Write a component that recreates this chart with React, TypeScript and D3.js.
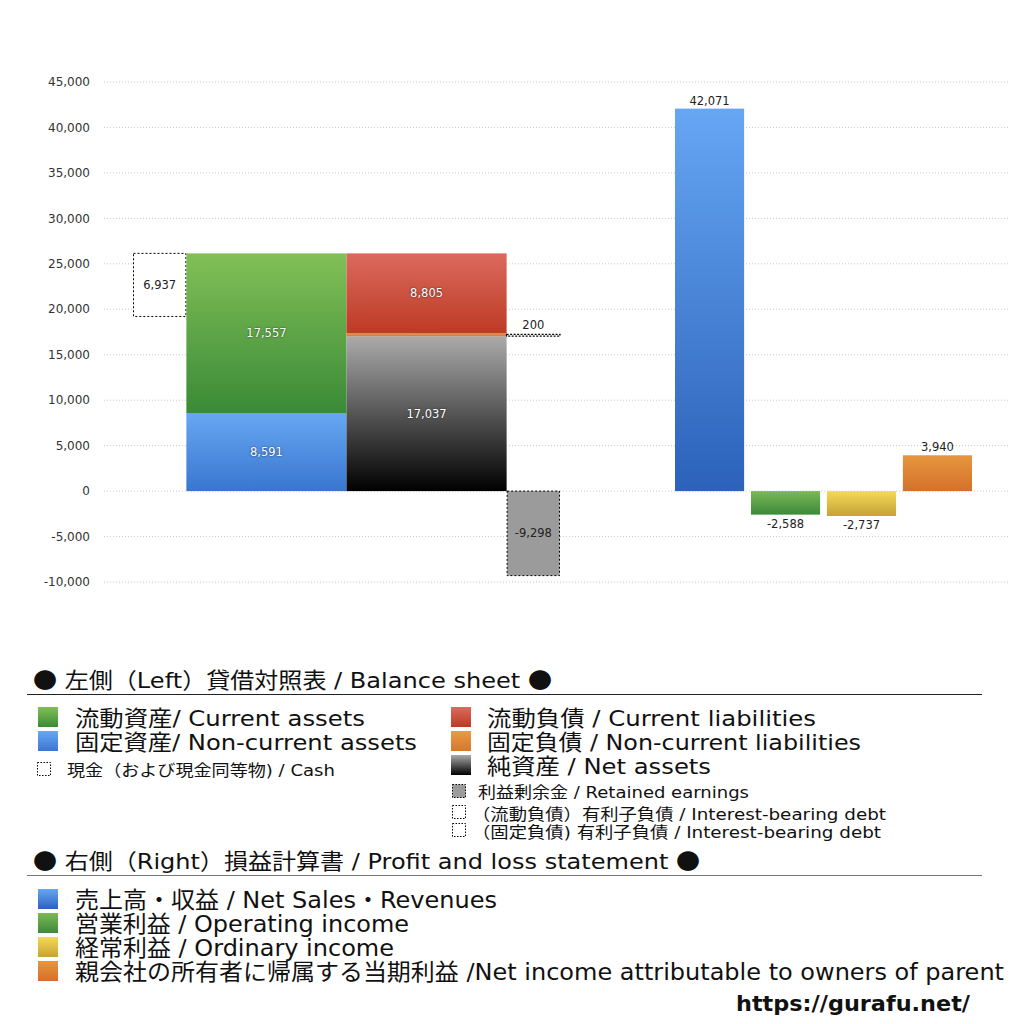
import * as d3 from "d3";

// Balance sheet (left), million yen
const cashValue = 6937;
const assetLabels = ["固定資産", "流動資産"];
const assetValues = [8591, 17557];
const liabilityLabels = ["純資産", "固定負債", "流動負債"];
const liabilityValues = [17037, 306, 8805];
const interestDebtValues = [200];
const retainedEarnings = -9298;

// Profit and loss (right)
const plLabels = ["売上高", "営業利益", "経常利益", "当期利益"];
const plValues = [42071, -2588, -2737, 3940];

const yTicks = d3.range(-10000, 45001, 5000);

const FONT = "'DejaVu Sans', 'Noto Sans CJK JP', sans-serif";
const CJK = "'Noto Sans CJK JP', sans-serif";
const fmt = (v: number) => d3.format(",")(v).replace("−", "-");

const gradients: Record<string, [string, string]> = {
  green: ["#82c057", "#3a8a37"],
  blue: ["#67a7f2", "#3a76d0"],
  red: ["#db6a5e", "#bd3a24"],
  orange: ["#ea9a44", "#d7772c"],
  net: ["#ababab", "#000000"],
  revenue: ["#66a6f3", "#2c62ba"],
  opGreen: ["#7cb856", "#3b8a3a"],
  yellow: ["#f3da58", "#c6a236"],
  netIncome: ["#e6973e", "#d4702a"],
};

const assetFills = ["blue", "green"];
const liabilityFills = ["net", "orange", "red"];
const plFills = ["revenue", "opGreen", "yellow", "netIncome"];

const shadow = { textShadow: "0 0 2px rgba(0,0,0,0.7)" };

function stackOf(values: number[]) {
  let acc = 0;
  return values.map((v) => {
    const s = { y0: acc, y1: acc + v, v };
    acc += v;
    return s;
  });
}

export default function App() {
  const W = 1024;
  const H = 1024;
  const y = d3.scaleLinear().domain([-10000, 45000]).range([582, 82]);
  // left block in column units: cash(1) assets(3) liabilities(3) retained(1)
  const xl = d3.scaleLinear().domain([0, 8]).range([133, 560]);
  const xr = d3.scaleBand<string>().domain(plLabels).range([675, 972]).paddingInner(0.09).paddingOuter(0);

  const assets = stackOf(assetValues);
  const liabs = stackOf(liabilityValues);
  const totalAssets = d3.sum(assetValues);
  const netTop = liabilityValues[0];

  const inLabel = (x: number, yy: number, txt: string, white = true) => (
    <text
      x={x}
      y={yy}
      dy="0.35em"
      textAnchor="middle"
      fontSize={11.5}
      fill={white ? "#fff" : "#222"}
      style={white ? shadow : undefined}
    >
      {txt}
    </text>
  );

  const sw = (x: number, yy: number, g: string) => (
    <rect x={x} y={yy} width={20} height={20} fill={`url(#g-${g})`} />
  );
  const dotSw = (x: number, yy: number, fill = "#fff") => (
    <rect x={x + 0.5} y={yy + 0.5} width={13} height={13} fill={fill} stroke="#000" strokeWidth={1} strokeDasharray="1.5,1.5" />
  );
  const lt = (x: number, yy: number, size: number, len: number, txt: string) => (
    <text x={x} y={yy} fontSize={size} fill="#111" textLength={len} lengthAdjust="spacingAndGlyphs">
      {txt}
    </text>
  );
  const header = (x: number, yy: number, len: number, txt: string) => (
    <text x={x} y={yy} fontSize={22} fill="#111" textLength={len} lengthAdjust="spacingAndGlyphs">
      <tspan fontFamily={CJK}>●</tspan>
      {` ${txt} `}
      <tspan fontFamily={CJK}>●</tspan>
    </text>
  );

  return (
    <svg width={W} height={H} style={{ position: "absolute", left: 0, top: 0, background: "#fff" }} fontFamily={FONT}>
      <defs>
        {Object.entries(gradients).map(([k, [c0, c1]]) => (
          <linearGradient key={k} id={`g-${k}`} x1="0" y1="0" x2="0" y2="1">
            <stop offset="0%" stopColor={c0} />
            <stop offset="100%" stopColor={c1} />
          </linearGradient>
        ))}
      </defs>

      {/* grid + y axis */}
      {yTicks.map((t) => (
        <g key={t}>
          <line x1={104} x2={1010} y1={y(t)} y2={y(t)} stroke="#c8c8c8" strokeWidth={1} strokeDasharray="1,2" />
          <text x={90} y={y(t)} dy="0.35em" textAnchor="end" fontSize={12} fill="#333">
            {fmt(t)}
          </text>
        </g>
      ))}

      {/* cash box */}
      <rect
        x={xl(0) + 0.5}
        y={y(totalAssets)}
        width={xl(1) - xl(0) - 1}
        height={y(totalAssets - cashValue) - y(totalAssets)}
        fill="#fff"
        stroke="#000"
        strokeDasharray="2,2"
      />
      {inLabel((xl(0) + xl(1)) / 2, y(totalAssets - cashValue / 2), fmt(cashValue), false)}

      {/* assets */}
      {assets.map((s, i) => (
        <g key={assetLabels[i]}>
          <rect x={xl(1)} y={y(s.y1)} width={xl(4) - xl(1)} height={y(s.y0) - y(s.y1)} fill={`url(#g-${assetFills[i]})`} />
          {inLabel((xl(1) + xl(4)) / 2, y((s.y0 + s.y1) / 2), fmt(s.v))}
        </g>
      ))}

      {/* liabilities + net assets */}
      {liabs.map((s, i) => {
        const h = y(s.y0) - y(s.y1);
        return (
          <g key={liabilityLabels[i]}>
            <rect x={xl(4)} y={y(s.y1)} width={xl(7) - xl(4)} height={h} fill={`url(#g-${liabilityFills[i]})`} />
            {h < 12
              ? (
                <text x={(xl(4) + xl(7)) / 2} y={y(s.y1) - 1} textAnchor="middle" fontSize={11.5} fill="#fff" style={shadow}>
                  {fmt(s.v)}
                </text>
              )
              : inLabel((xl(4) + xl(7)) / 2, y((s.y0 + s.y1) / 2), fmt(s.v))}
          </g>
        );
      })}

      {/* interest-bearing debt */}
      {interestDebtValues.map((v) => (
        <g key={v}>
          <rect
            x={xl(7)}
            y={y(netTop + v)}
            width={xl(8) - xl(7)}
            height={Math.max(1, y(netTop) - y(netTop + v))}
            fill="none"
            stroke="#000"
            strokeWidth={1.2}
            strokeDasharray="2,1.5"
          />
          <text x={(xl(7) + xl(8)) / 2} y={y(netTop + v) - 5} textAnchor="middle" fontSize={11.5} fill="#222">
            {fmt(v)}
          </text>
        </g>
      ))}

      {/* retained earnings */}
      <rect
        x={xl(7) + 0.5}
        y={y(0)}
        width={xl(8) - xl(7) - 1}
        height={y(retainedEarnings) - y(0)}
        fill="#9b9b9b"
        stroke="#000"
        strokeDasharray="2,2"
      />
      {inLabel((xl(7) + xl(8)) / 2, y(retainedEarnings / 2), fmt(retainedEarnings), false)}

      {/* P&L bars */}
      {plValues.map((v, i) => {
        const top = y(Math.max(0, v));
        const bot = y(Math.min(0, v));
        const cx = (xr(plLabels[i]) ?? 0) + xr.bandwidth() / 2;
        return (
          <g key={plLabels[i]}>
            <rect x={xr(plLabels[i])} y={top} width={xr.bandwidth()} height={bot - top} fill={`url(#g-${plFills[i]})`} />
            <text x={cx} y={v >= 0 ? top - 4 : bot + 13} textAnchor="middle" fontSize={11.5} fill="#222">
              {fmt(v)}
            </text>
          </g>
        );
      })}

      {/* legend: balance sheet */}
      {header(33, 688, 519, "左側（Left）貸借対照表 / Balance sheet")}
      <line x1={27} x2={982} y1={694.5} y2={694.5} stroke="#222" strokeWidth={1} />

      {sw(38, 707, "green")}
      {lt(75, 726, 22, 290, "流動資産/ Current assets")}
      {sw(38, 731, "blue")}
      {lt(75, 750, 22, 342, "固定資産/ Non-current assets")}
      {dotSw(37, 762)}
      {lt(67, 776, 16, 268, "現金（および現金同等物) / Cash")}

      {sw(451, 707, "red")}
      {lt(487, 726, 22, 329, "流動負債 /  Current liabilities")}
      {sw(451, 731, "orange")}
      {lt(487, 750, 22, 374, "固定負債 / Non-current liabilities")}
      {sw(451, 755, "net")}
      {lt(487, 774, 22, 224, "純資産 / Net assets")}
      {dotSw(452, 784, "#9b9b9b")}
      {lt(478, 798, 16, 271, "利益剰余金 / Retained earnings")}
      {dotSw(452, 805)}
      {lt(472, 820, 16, 414, "（流動負債）有利子負債 / Interest-bearing debt")}
      {dotSw(452, 823)}
      {lt(472, 838, 16, 409, "（固定負債) 有利子負債 / Interest-bearing debt")}

      {/* legend: P&L */}
      {header(33, 869, 667, "右側（Right）損益計算書 / Profit and loss statement")}
      <line x1={27} x2={982} y1={875.5} y2={875.5} stroke="#777" strokeWidth={1.2} />

      {sw(38, 889, "revenue")}
      {lt(75, 908, 23, 422, "売上高・収益 / Net Sales・Revenues")}
      {sw(38, 913, "opGreen")}
      {lt(75, 932, 23, 334, "営業利益 / Operating income")}
      {sw(38, 937, "yellow")}
      {lt(75, 956, 23, 319, "経常利益 / Ordinary income")}
      {sw(38, 961, "netIncome")}
      {lt(75, 980, 23, 929, "親会社の所有者に帰属する当期利益 /Net income attributable to owners of parent")}

      <text x={736} y={1011} fontSize={21} fontWeight="bold" fill="#111" textLength={234} lengthAdjust="spacingAndGlyphs">
        https://gurafu.net/
      </text>
    </svg>
  );
}
